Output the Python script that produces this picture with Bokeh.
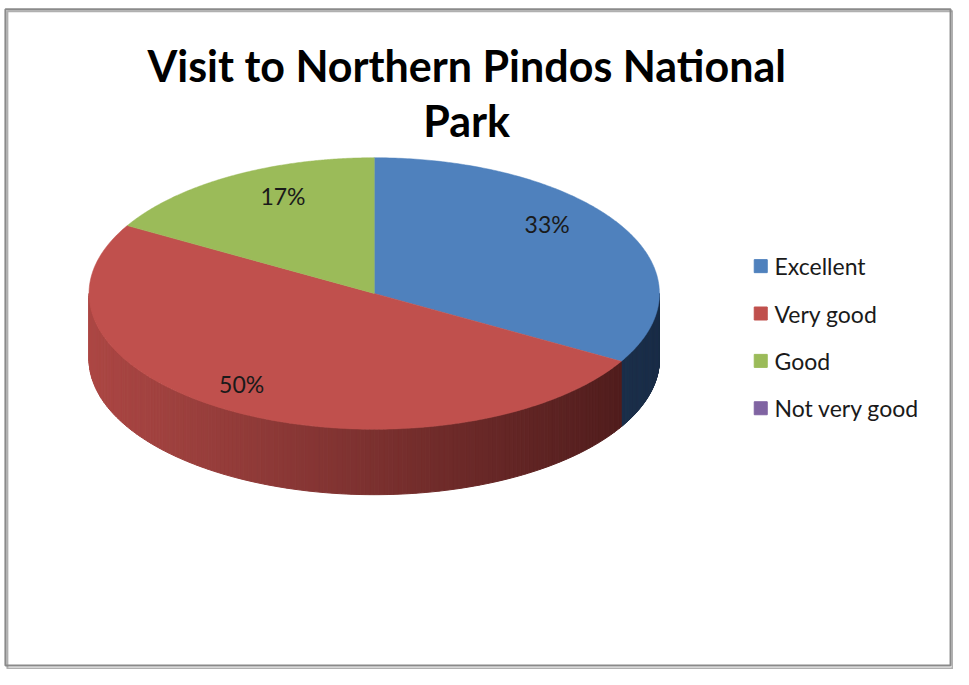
import numpy as np
from bokeh.plotting import figure
from bokeh.models import Range1d
from bokeh.core.properties import value
from bokeh.embed import file_html
from bokeh.resources import INLINE

# ---- data ----
title_lines = ["Visit to Northern Pindos National", "Park"]
categories = ["Excellent", "Very good", "Good", "Not very good"]
counts = [2, 3, 1, 0]
top_colors = ["#4f81bd", "#c0504d", "#9bbb59", "#8064a2"]
side_light = ["#2a4a75", "#ac4744", "#7f9a48", "#67508a"]
side_dark = ["#1b2e48", "#4a1a1a", "#4c5e2a", "#3d2f55"]
label_radius = [0.70, 0.93, 0.64, 0.75]

# ---- geometry (reference pixel space 969 x 685 mapped onto the figure) ----
W, H = 953, 669
RW, RH = 969, 685
cx, cy, a, b, depth = 380.0, 300.0, 290.0, 139.0, 67.0

p = figure(width=W, height=H, output_backend="svg", toolbar_location=None,
           x_range=Range1d(0, RW), y_range=Range1d(RH, 0),
           min_border=0, x_axis_type=None, y_axis_type=None)
p.grid.visible = False
p.outline_line_color = None
p.background_fill_color = "white"

# chart border with a slight shadow
p.quad(left=[7], right=[968], top=[11], bottom=[684], fill_color=None,
       line_color="#b0b0b0", line_width=2)
p.quad(left=[5], right=[966], top=[9], bottom=[681], fill_color=None,
       line_color="#8a8a8a", line_width=2)


def ex(t):
    return cx + a * np.sin(t)


def ey(t):
    return cy - b * np.cos(t)


def hexrgb(h):
    h = h.lstrip("#")
    return np.array([int(h[i:i + 2], 16) for i in (0, 2, 4)], dtype=float)


total = float(sum(counts))
fracs = [c / total for c in counts]
starts = np.cumsum([0.0] + fracs[:-1]) * 2 * np.pi
ends = np.cumsum(fracs) * 2 * np.pi

# ---- side walls (front half: pi/2 .. 3pi/2) with horizontal gradient ----
sx, sy, sc = [], [], []
for i, f in enumerate(fracs):
    if f <= 0:
        continue
    lo = max(starts[i], np.pi / 2)
    hi = min(ends[i], 3 * np.pi / 2)
    if hi <= lo:
        continue
    n = 160
    ts = np.linspace(lo, hi, n + 1)
    cl, cd = hexrgb(side_light[i]), hexrgb(side_dark[i])
    for k in range(n):
        t0, t1 = ts[k], ts[k + 1]
        xm = (ex(t0) + ex(t1)) / 2
        u = np.clip((xm - (cx - a)) / (2 * a), 0, 1)
        col = cl * (1 - u) + cd * u
        sx.append([ex(t0), ex(t1), ex(t1), ex(t0)])
        sy.append([ey(t0), ey(t1), ey(t1) + depth, ey(t0) + depth])
        sc.append("#%02x%02x%02x" % tuple(int(round(v)) for v in col))
p.patches(sx, sy, fill_color=sc, line_color=sc, line_width=1)

# ---- top faces ----
tx, ty, tc = [], [], []
for i, f in enumerate(fracs):
    if f <= 0:
        continue
    ts = np.linspace(starts[i], ends[i], 200)
    tx.append([cx] + list(ex(ts)))
    ty.append([cy] + list(ey(ts)))
    tc.append(top_colors[i])
p.patches(tx, ty, fill_color=tc, line_color=tc, line_width=0.5)

# ---- percentage labels ----
lx, ly, lt = [], [], []
for i, f in enumerate(fracs):
    if f <= 0:
        continue
    mid = (starts[i] + ends[i]) / 2
    r = label_radius[i]
    lx.append(cx + a * r * np.sin(mid))
    ly.append(cy - 4 - b * 0.8 * np.cos(mid) - (12 if np.cos(mid) > 0 and np.sin(mid) > 0 else 0))
    lt.append("%d%%" % round(f * 100))
p.text(lx, ly, text=lt, text_align="center", text_baseline="middle",
       text_font=value("Lato"), text_font_size="23px", text_color="#1a1a1a")

# ---- title ----
p.text([474, 474], [67, 123], text=title_lines, text_align="center",
       text_baseline="alphabetic", text_font=value("Lato"),
       text_font_size="43px", text_font_style="bold", text_color="black")

# ---- legend (manual) ----
leg_y = [272 + 48.5 * k for k in range(len(categories))]
p.scatter([773] * len(categories), leg_y, marker="square", size=13,
          fill_color=top_colors, line_color=top_colors)
p.text([787] * len(categories), leg_y, text=categories, text_align="left",
       text_baseline="middle", text_font=value("Lato"),
       text_font_size="23px", text_color="#1a1a1a")

open("out.html", "w").write(file_html(p, INLINE))
